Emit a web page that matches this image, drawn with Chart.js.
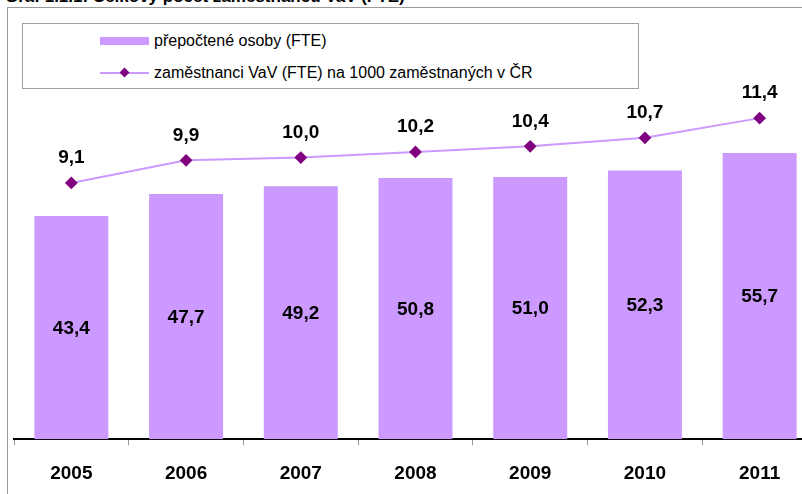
<!DOCTYPE html>
<html>
<head>
<meta charset="utf-8">
<script src="https://cdn.jsdelivr.net/npm/chart.js@4"></script>
<style>
  body { margin: 0; width: 802px; height: 494px; overflow: hidden; position: relative; background: #fff; font-family: Arial, "Liberation Sans", sans-serif; }
  #title { position: absolute; left: 5px; top: -13px; font-size: 17px; font-weight: bold; white-space: nowrap; }
  #frame { position: absolute; left: 7px; top: 7px; width: 900px; height: 600px; border-left: 1px solid #999; border-top: 1px solid #999; }
  #wrap { position: absolute; left: 0; top: 0; width: 840px; height: 510px; }
  #legend { position: absolute; left: 22px; top: 23px; width: 615px; height: 64px; border: 1px solid #a0a0a0; background: #fff; }
  .item { position: absolute; left: 77px; height: 20px; font-size: 16px; line-height: 20px; white-space: nowrap; }
  .sw { position: absolute; left: 0; width: 49px; }
  .txt { position: absolute; left: 54px; top: 0; }
  .dia { position: absolute; left: 21px; top: 6px; width: 7px; height: 7px; background: #800080; transform: rotate(45deg); }
</style>
</head>
<body>
<div id="title">Graf 1.1.1: Celkový počet zaměstnanců VaV (FTE)</div>
<div id="frame"></div>
<div id="wrap"><canvas id="myChart" width="840" height="510"></canvas></div>
<div id="legend">
  <div class="item" style="top:7px"><div class="sw" style="top:6px;height:8px;background:#cc99ff"></div><div class="txt">přepočtené osoby (FTE)</div></div>
  <div class="item" style="top:39px"><div class="sw" style="top:9px;height:2px;background:#cc99ff"></div><div class="dia"></div><div class="txt">zaměstnanci VaV (FTE) na 1000 zaměstnaných v ČR</div></div>
</div>
<script>
const years = ['2005', '2006', '2007', '2008', '2009', '2010', '2011'];
const fteValues = [43.4, 47.7, 49.2, 50.8, 51.0, 52.3, 55.7];
const per1000 = [9.1, 9.9, 10.0, 10.2, 10.4, 10.7, 11.4];

function fmt(v) {
    return v.toFixed(1).replace('.', ',');
}

// value labels on bars (middle) and above line points
const valueLabels = {
    id: 'valueLabels',
    afterDatasetsDraw(chart) {
        const ctx = chart.ctx;
        ctx.save();
        ctx.fillStyle = '#000';
        ctx.font = 'bold 19px Arial, "Liberation Sans"';
        ctx.textAlign = 'center';
        ctx.textBaseline = 'middle';
        chart.getDatasetMeta(0).data.forEach((el, i) => {
            ctx.fillText(fmt(fteValues[i]), el.x, (el.y + el.base) / 2 + 1);
        });
        chart.getDatasetMeta(1).data.forEach((el, i) => {
            ctx.fillText(fmt(per1000[i]), el.x, el.y - 25);
        });
        ctx.restore();
    }
};

const ctx = document.getElementById('myChart').getContext('2d');
new Chart(ctx, {
    type: 'bar',
    data: {
        labels: years,
        datasets: [{
            type: 'bar',
            label: 'přepočtené osoby (FTE)',
            data: fteValues,
            backgroundColor: '#cc99ff',
            borderWidth: 0,
            categoryPercentage: 1,
            barPercentage: 0.645,
            yAxisID: 'y',
            order: 2
        }, {
            type: 'line',
            label: 'zaměstnanci VaV (FTE) na 1000 zaměstnaných v ČR',
            data: per1000,
            borderColor: '#cc99ff',
            borderWidth: 2,
            pointStyle: 'rectRot',
            pointRadius: 5,
            pointBackgroundColor: '#800080',
            pointBorderColor: '#800080',
            tension: 0,
            yAxisID: 'y2',
            order: 1
        }]
    },
    options: {
        responsive: false,
        animation: false,
        layout: {
            padding: { left: 14, right: 23, top: 28, bottom: 8 }
        },
        plugins: {
            legend: { display: false },
            tooltip: { enabled: false }
        },
        scales: {
            x: {
                grid: {
                    drawOnChartArea: false,
                    drawTicks: true,
                    tickLength: 6,
                    color: '#999'
                },
                border: { color: '#000', width: 2 },
                ticks: {
                    color: '#000',
                    padding: 17,
                    font: { family: 'Arial, "Liberation Sans"', size: 19, weight: 'bold' }
                }
            },
            y: {
                display: false,
                min: 0,
                max: 80
            },
            y2: {
                display: false,
                position: 'right',
                min: 0,
                max: 14.6
            }
        }
    },
    plugins: [valueLabels]
});
</script>
</body>
</html>
